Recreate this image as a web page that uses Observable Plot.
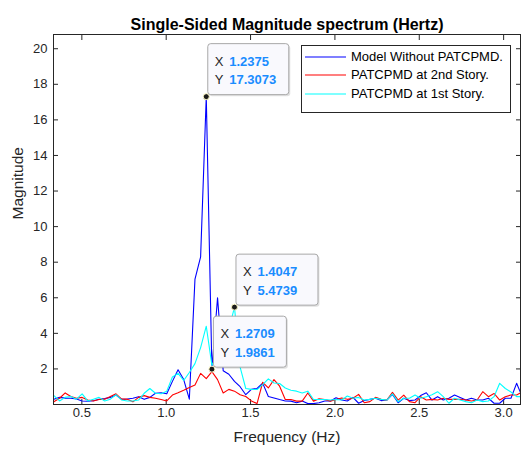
<!DOCTYPE html>
<html><head><meta charset="utf-8">
<script src="https://cdn.jsdelivr.net/npm/d3@7"></script>
<script src="https://cdn.jsdelivr.net/npm/@observablehq/plot@0.6"></script>
<style>
body{margin:0;background:#fff;}
#wrap{position:relative;width:521px;height:450px;font-family:"Liberation Sans",Arial,Helvetica,sans-serif;}
#legend{position:absolute;left:301px;top:45px;width:210px;height:68px;border:1px solid #262626;background:#fff;box-sizing:border-box;}
.row{position:absolute;left:0;height:18px;font-size:13px;line-height:18px;color:#000;white-space:nowrap;}
.sw{position:absolute;left:3px;top:0;}
.lb{position:absolute;left:49px;top:0;}
</style></head><body><div id="wrap"></div>
<script>
// FFT bins shown (bin number k, frequency = k * binWidth Hz)
const binIndex = d3.range(10, 94);
const binWidth = 0.033445;
const frequency = binIndex.map(k => k * binWidth);

const seriesNames = ["Model Without PATCPMD.", "PATCPMD at 2nd Story.", "PATCPMD at 1st Story."];
const seriesColors = ["#0000ff", "#ff0000", "#00ffff"];

const modelWithout = [0.29,0.4,0.36,0.35,0.31,0.2,0.18,0.21,0.29,0.33,
  0.4,0.53,0.29,0.31,0.35,0.44,0.29,0.4,0.63,0.66,
  0.6,1.3,1.95,1.4,0.3,7.05,8.3,17.3073,1.9861,6.0,
  1.9,1.7,1.3,1.0,0.55,0.85,0.9,1.2,0.45,0.37,
  0.28,0.2,0.19,0.1,0.19,0.05,0.05,0.1,0.2,0.2,
  0.38,0.25,0.2,0.4,0.07,0.22,0.29,0.35,0.22,0.25,
  0.57,0.1,0.35,0.22,0.25,0.5,0.66,0.25,0.44,0.25,
  0.35,0.53,0.4,0.25,0.35,0.25,0.25,0.35,0.07,0.07,
  0.35,0.35,1.19,0.44];
const atSecondStory = [0.15,0.35,0.65,0.45,0.35,0.4,0.25,0.2,0.28,0.3,
  0.45,0.6,0.3,0.3,0.15,0.4,0.5,0.4,0.35,0.28,
  0.2,0.53,0.66,0.8,0.96,1.1,1.75,1.45,1.85,1.4,
  0.65,0.85,0.75,0.55,0.45,0.2,0.05,1.25,0.93,1.4,
  1.03,0.28,0.28,0.19,0.19,0.65,0.19,0.32,0.28,0.19,
  0.28,0.37,0.29,0.35,0.57,0.1,0.16,0.4,0.29,0.25,
  0.68,0.25,0.53,0.16,0.1,0.44,0.25,0.29,0.25,0.35,
  0.29,0.29,0.29,0.25,0.2,0.25,0.72,0.44,0.62,0.25,
  0.44,0.53,0.53,0.72];
const atFirstStory = [0.5,0.2,0.4,0.45,0.3,0.6,0.2,0.3,0.4,0.2,
  0.3,0.55,0.25,0.2,0.2,0.25,0.63,0.9,0.63,0.6,
  0.75,1.55,1.75,1.35,1.8,2.3,3.2,4.4,2.2,2.8,
  3.5,4.2,5.4739,2.1,0.9,0.85,0.84,1.12,1.44,1.21,
  1.18,0.93,0.8,0.75,0.65,0.75,0.28,0.28,0.28,0.25,
  0.28,0.25,0.48,0.35,0.4,0.25,0.29,0.35,0.29,0.25,
  0.6,0.16,0.35,0.35,0.53,0.35,0.44,0.55,0.72,0.44,
  0.07,0.35,0.25,0.16,0.1,0.25,0.16,0.2,0.44,1.19,
  0.9,0.7,0.44,0.44];

const tipFreq = [1.2375, 1.4047, 1.2709];
const tipMag = [17.3073, 5.4739, 1.9861];

const xTicks = [0.5, 1, 1.5, 2, 2.5, 3];
const yTicks = [2, 4, 6, 8, 10, 12, 14, 16, 18, 20];

const titleText = "Single-Sided Magnitude spectrum (Hertz)";
const xLabel = "Frequency (Hz)";
const yLabel = "Magnitude";

const seriesValues = [modelWithout, atSecondStory, atFirstStory];
const tables = seriesValues.map(vals => vals.map((m, i) => ({f: frequency[i], m})));
const tips = tipFreq.map((f, i) => ({f, m: tipMag[i]}));

const FONT = '"Liberation Sans", Arial, Helvetica, sans-serif';
const AX = "#262626";
const tipBoxW = [81, 82, 73];

function datatipBoxes(index, scales) {
  const g = d3.create("svg:g").attr("font-family", FONT).attr("font-size", 13)
    .attr("text-anchor", "start");
  tips.forEach((t, i) => {
    const px = scales.x(t.f), py = scales.y(t.m);
    const w = tipBoxW[i], h = 51;
    const gg = g.append("g").attr("transform", `translate(${px + 2},${py - 1.5 - h})`);
    gg.append("rect").attr("x", 1.5).attr("y", 1.5).attr("width", w).attr("height", h).attr("rx", 3)
      .attr("fill", "#000").attr("fill-opacity", 0.12);
    gg.append("rect").attr("x", 0).attr("y", 0).attr("width", w).attr("height", h).attr("rx", 3)
      .attr("fill", "#f9f9fd").attr("stroke", "#a8a8a8").attr("stroke-width", 1);
    [["X", t.f.toFixed(4)], ["Y", t.m.toFixed(4)]].forEach(([lab, val], j) => {
      const yy = 22 + j * 18.5;
      gg.append("text").attr("x", 7).attr("y", yy).attr("text-anchor", "start")
        .attr("fill", "#262626").text(lab);
      gg.append("text").attr("x", 21.5).attr("y", yy).attr("text-anchor", "start")
        .attr("fill", "#1a8cff").attr("font-weight", "bold").text(val);
    });
  });
  return g.node();
}

const chart = Plot.plot({
  width: 521, height: 450,
  marginLeft: 53, marginRight: 1, marginTop: 34, marginBottom: 46,
  style: {fontFamily: FONT, fontSize: "13px", color: AX, background: "white", overflow: "visible"},
  x: {domain: [0.332, 3.1]},
  y: {domain: [0, 20.8]},
  marks: [
    Plot.axisX(xTicks, {anchor: "bottom", tickSize: -5, tickPadding: 8, fontSize: 13, label: null, color: AX}),
    Plot.axisX(xTicks, {anchor: "top", tickSize: -5, tickFormat: () => "", label: null, color: AX}),
    Plot.axisY(yTicks, {anchor: "left", tickSize: -5, tickPadding: 11, fontSize: 13, label: null, color: AX}),
    Plot.axisY(yTicks, {anchor: "right", tickSize: -5, tickFormat: () => "", label: null, color: AX}),
    ...tables.map((tb, i) => Plot.line(tb, {x: "f", y: "m", stroke: seriesColors[i], strokeWidth: 1.1, clip: true})),
    Plot.frame({stroke: AX, strokeWidth: 1}),
    Plot.dot(tips, {x: "f", y: "m", r: 3, fill: "#1a1a1a", stroke: "#fffbc8", strokeWidth: 1}),
    datatipBoxes,
    Plot.text([titleText], {frameAnchor: "top", dy: -16, fontWeight: "bold", fontSize: 16, fill: "#000"}),
    Plot.text([xLabel], {frameAnchor: "bottom", dy: 37, fontSize: 15.5, fill: AX}),
    Plot.text([yLabel], {frameAnchor: "left", dx: -35, rotate: -90, fontSize: 15.5, fill: AX})
  ]
});

const wrap = document.getElementById("wrap");
wrap.appendChild(chart);
const legend = document.createElement("div");
legend.id = "legend";
const rowTops = [2, 20, 39];
const NS = "http://www.w3.org/2000/svg";
seriesNames.forEach((name, i) => {
  const r = document.createElement("div");
  r.className = "row";
  r.style.top = rowTops[i] + "px";
  const sw = document.createElementNS(NS, "svg");
  sw.setAttribute("class", "sw");
  sw.setAttribute("width", "42");
  sw.setAttribute("height", "18");
  const ln = document.createElementNS(NS, "line");
  ln.setAttribute("x1", "0"); ln.setAttribute("x2", "41");
  ln.setAttribute("y1", "9"); ln.setAttribute("y2", "9");
  ln.setAttribute("stroke", seriesColors[i]);
  ln.setAttribute("stroke-width", "1.2");
  sw.appendChild(ln);
  r.appendChild(sw);
  const tx = document.createElement("span");
  tx.className = "lb";
  tx.textContent = name;
  r.appendChild(tx);
  legend.appendChild(r);
});
wrap.appendChild(legend);
</script></body></html>
